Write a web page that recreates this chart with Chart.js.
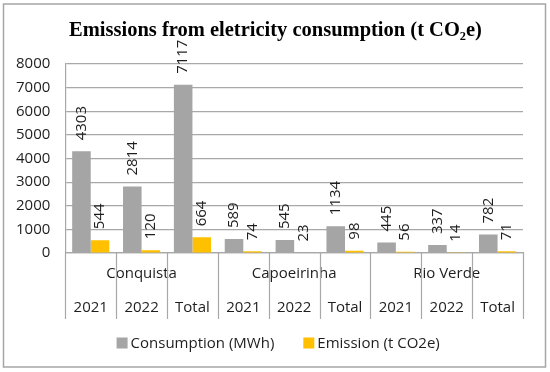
<!DOCTYPE html>
<html>
<head>
<meta charset="utf-8">
<script src="https://cdn.jsdelivr.net/npm/chart.js@4/dist/chart.umd.min.js"></script>
<style>
html,body{margin:0;padding:0;background:#fff;}
#wrap{width:550px;height:372px;position:relative;}
</style>
</head>
<body>
<div id="wrap"><canvas id="c" width="550" height="372"></canvas></div>
<script>
const sites = ['Conquista', 'Capoeirinha', 'Rio Verde'];
const periods = ['2021', '2022', 'Total'];
const consumption = [4303, 2814, 7117, 589, 545, 1134, 445, 337, 782];
const emission = [544, 120, 664, 74, 23, 98, 56, 14, 71];
const yTicks = [0, 1000, 2000, 3000, 4000, 5000, 6000, 7000, 8000];
const titleText = 'Emissions from eletricity consumption (t CO\u2082e)';
const seriesNames = ['Consumption (MWh)', 'Emission (t CO2e)'];
const seriesColors = ['#a5a5a5', '#ffc000'];

const labels = [];
sites.forEach(s => periods.forEach((p, i) => labels.push([i === 1 ? s : '', p])));

const FONT = 'Open Sans';
const TXT = '#1e1e1e';
const GRID = '#a8a8a8';

const framePlugin = {
  id: 'frame',
  beforeDraw(chart) {
    const ctx = chart.ctx;
    ctx.save();
    ctx.fillStyle = '#fff';
    ctx.fillRect(0, 0, chart.width, chart.height);
    ctx.strokeStyle = '#a6a6a6';
    ctx.lineWidth = 1.5;
    ctx.strokeRect(3.5, 4, 542, 363);
    ctx.restore();
  }
};

// centred title across the whole frame
const centredTitle = {
  id: 'centredTitle',
  afterDraw(chart) {
    const ctx = chart.ctx;
    ctx.save();
    ctx.font = 'bold 20.5px "Liberation Serif"';
    ctx.fillStyle = '#000';
    ctx.textAlign = 'center';
    ctx.textBaseline = 'middle';
    ctx.fillText(titleText, chart.width / 2 + 0.5, 31);
    ctx.restore();
  }
};

// vertical separators between categories, below the axis
const separators = {
  id: 'separators',
  afterDraw(chart) {
    const xs = chart.scales.x;
    const n = chart.data.labels.length;
    const half = (xs.getPixelForValue(1) - xs.getPixelForValue(0)) / 2;
    const top = chart.chartArea.bottom;
    const ctx = chart.ctx;
    ctx.save();
    ctx.strokeStyle = GRID;
    ctx.lineWidth = 1.2;
    ctx.beginPath();
    for (let i = 0; i <= n; i++) {
      const x = Math.round(xs.getPixelForValue(i) - half) + 0.5;
      ctx.moveTo(x, top);
      ctx.lineTo(x, top + 66);
    }
    ctx.stroke();
    ctx.restore();
  }
};

const valueLabels = {
  id: 'valueLabels',
  afterDatasetsDraw(chart) {
    const ctx = chart.ctx;
    ctx.save();
    ctx.font = '15px "' + FONT + '"';
    ctx.fillStyle = TXT;
    ctx.textAlign = 'left';
    ctx.textBaseline = 'middle';
    chart.data.datasets.forEach((ds, di) => {
      const meta = chart.getDatasetMeta(di);
      meta.data.forEach((bar, i) => {
        ctx.save();
        ctx.translate(bar.x, bar.y - 11);
        ctx.rotate(-Math.PI / 2);
        ctx.fillText(String(ds.data[i]), 0, 0);
        ctx.restore();
      });
    });
    ctx.restore();
  }
};

const customLegend = {
  id: 'customLegend',
  afterDraw(chart) {
    const ctx = chart.ctx;
    const xs = chart.scales.x;
    ctx.save();
    ctx.font = '15px "' + FONT + '"';
    ctx.textBaseline = 'middle';
    ctx.textAlign = 'left';
    const box = 11, gapText = 3, gapItem = 29;
    const items = chart.data.datasets.map(d => ({ text: d.label, color: d.backgroundColor, w: ctx.measureText(d.label).width }));
    let total = 0;
    items.forEach((it, i) => { total += box + gapText + it.w + (i < items.length - 1 ? gapItem : 0); });
    let x = (xs.left + xs.right) / 2 - 16 - total / 2;
    const y = chart.chartArea.bottom + 90;
    items.forEach(it => {
      ctx.fillStyle = it.color;
      ctx.fillRect(x, y - box / 2, box, box);
      ctx.fillStyle = TXT;
      ctx.fillText(it.text, x + box + gapText, y + 1);
      x += box + gapText + it.w + gapItem;
    });
    ctx.restore();
  }
};

new Chart(document.getElementById('c'), {
  type: 'bar',
  data: {
    labels: labels,
    datasets: [
      { label: seriesNames[0], data: consumption, backgroundColor: seriesColors[0] },
      { label: seriesNames[1], data: emission, backgroundColor: seriesColors[1] }
    ]
  },
  options: {
    responsive: false,
    animation: false,
    devicePixelRatio: 1,
    layout: { padding: { top: 64, left: 1, right: 27, bottom: 52 } },
    datasets: { bar: { categoryPercentage: 0.73, barPercentage: 1 } },
    plugins: {
      title: { display: false },
      legend: { display: false },
      tooltip: { enabled: false }
    },
    scales: {
      x: {
        grid: { display: false },
        border: { display: true, color: GRID, width: 1.2 },
        ticks: { color: TXT, font: { family: FONT, size: 15, lineHeight: 34.5 / 15 }, padding: -5, maxRotation: 0, autoSkip: false }
      },
      y: {
        min: 0, max: 8000,
        afterBuildTicks(scale) { scale.ticks = yTicks.map(v => ({ value: v })); },
        grid: { color: GRID, lineWidth: 1.2, drawTicks: false },
        border: { display: true, color: GRID, width: 1.2 },
        ticks: { color: TXT, font: { family: FONT, size: 15 }, padding: 15, callback: v => String(v) }
      }
    }
  },
  plugins: [framePlugin, separators, valueLabels, customLegend, centredTitle]
});
</script>
</body>
</html>
